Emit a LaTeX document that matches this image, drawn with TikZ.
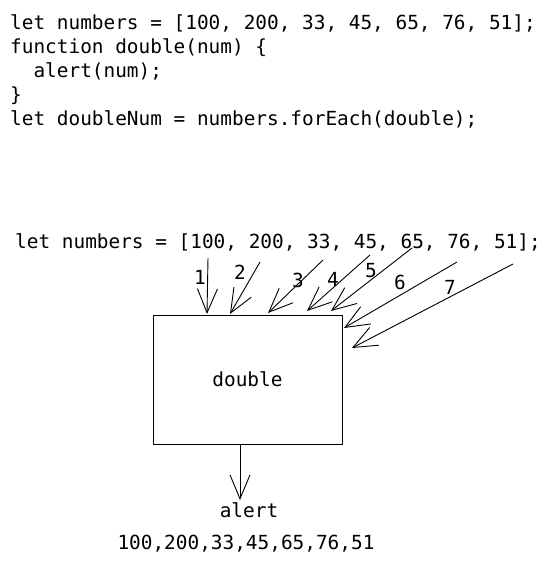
\documentclass[tikz,border=0pt]{standalone}
\usepackage{fontspec}
\setmonofont{DejaVu Sans Mono}
\usetikzlibrary{arrows.meta}
\begin{document}
\begin{tikzpicture}[x=1pt,y=-1pt,
  code/.style={font=\ttfamily\fontsize{19.4}{24}\selectfont, anchor=base west, inner sep=0pt},
  lbl/.style={font=\ttfamily\fontsize{19.4}{22}\selectfont, inner sep=0pt},
  big/.style={font=\ttfamily\fontsize{19.4}{22}\selectfont, inner sep=0pt},
  fbox/.style={draw, line width=1pt, minimum width=189pt, minimum height=129pt, inner sep=0pt},
  arr/.style={line width=0.9pt, -{Straight Barb[length=24pt,width=20pt,line width=0.9pt]}}]
\useasboundingbox (0,0) rectangle (552,565);
\node[code] (l1) at (10,29) {let numbers = [100, 200, 33, 45, 65, 76, 51];};
\node[code] (l2) at (10,53) {function double(num) \{};
\node[code] (l3) at (10,77) {\ \ alert(num);};
\node[code] (l4) at (10,101) {\}};
\node[code] (l5) at (10,125) {let doubleNum = numbers.forEach(double);};
\node[code] (arrline) at (15,248) {let numbers = [100, 200, 33, 45, 65, 76, 51];};
\node[fbox, font=\ttfamily\fontsize{19.4}{22}\selectfont] (dbl) at (247.5,379.5) {double};
% arrow starts
\coordinate (s1) at (208,258);
\coordinate (s2) at (260,262);
\coordinate (s3) at (323,260);
\coordinate (s4) at (370,255);
\coordinate (s5) at (412,248);
\coordinate (s6) at (457,262);
\coordinate (s7) at (513,264);
% arrow ends
\coordinate (e1) at (207,314);
\coordinate (e2) at (230,314);
\coordinate (e3) at (268,313);
\coordinate (e4) at (307,311);
\coordinate (e5) at (331,311);
\coordinate (e6) at (344,328);
\coordinate (e7) at (352,348);
\foreach \i in {1,...,7} {\draw[arr] (s\i) -- (e\i);}
\node[lbl] (n1) at (200,277) {1};
\node[lbl] (n2) at (240,272) {2};
\node[lbl] (n3) at (298,280) {3};
\node[lbl] (n4) at (333,279) {4};
\node[lbl] (n5) at (371,271) {5};
\node[lbl] (n6) at (400,282) {6};
\node[lbl] (n7) at (450,287) {7};
\node[big] (alert) at (249,510) {alert};
\coordinate (dtop) at (240,444);
\coordinate (dend) at (240,500);
\draw[arr] (dtop) -- (dend);
\node[big] (vals) at (246,544) {100,200,33,45,65,76,51};
\end{tikzpicture}
\end{document}
